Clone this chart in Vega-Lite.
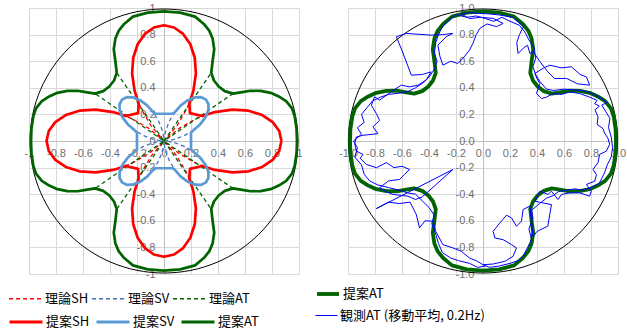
{
  "$schema": "https://vega.github.io/schema/vega-lite/v6.json",
  "background": "white",
  "padding": {"left": 8, "top": 2, "right": 0, "bottom": 0},
  "config": {
    "view": {"stroke": null},
    "locale": {"number": {"decimal": ".", "thousands": ",", "grouping": [3], "currency": ["", ""], "minus": "-"}},
    "axis": {"labelFont": "Liberation Sans", "labelFontSize": 11, "labelColor": "#707070", "domainColor": "#bfbfbf", "gridColor": "#d9d9d9", "gridWidth": 1, "zindex": 0},
    "legend": {"labelFont": "Noto Sans CJK JP", "labelFontSize": 13, "labelColor": "#000000", "symbolType": "stroke", "labelOffset": 2, "columnPadding": 0, "rowPadding": 11, "direction": "horizontal"}
  },
  "datasets": {
    "th": [
      {"s":"理論SH","i":0,"x":0.87,"y":0},{"s":"理論SH","i":1,"x":0.8535,"y":0.0747},{"s":"理論SH","i":2,"x":0.8051,"y":0.1419},{"s":"理論SH","i":3,"x":0.7277,"y":0.195},{"s":"理論SH","i":4,"x":0.6262,"y":0.2279},{"s":"理論SH","i":5,"x":0.5068,"y":0.2363},{"s":"理論SH","i":6,"x":0.3767,"y":0.2175},{"s":"理論SH","i":7,"x":0.2437,"y":0.1707},{"s":"理論SH","i":8,"x":0.1157,"y":0.0971},{"s":"理論SH","i":9,"x":0,"y":0},
      {"s":"理論SH","i":10,"x":0.0971,"y":0.1157},{"s":"理論SH","i":11,"x":0.1707,"y":0.2437},{"s":"理論SH","i":12,"x":0.2175,"y":0.3767},{"s":"理論SH","i":13,"x":0.2363,"y":0.5068},{"s":"理論SH","i":14,"x":0.2279,"y":0.6262},{"s":"理論SH","i":15,"x":0.195,"y":0.7277},{"s":"理論SH","i":16,"x":0.1419,"y":0.8051},{"s":"理論SH","i":17,"x":0.0747,"y":0.8535},{"s":"理論SH","i":18,"x":0,"y":0.87},
      {"s":"理論SH","i":19,"x":-0.0747,"y":0.8535},{"s":"理論SH","i":20,"x":-0.1419,"y":0.8051},{"s":"理論SH","i":21,"x":-0.195,"y":0.7277},{"s":"理論SH","i":22,"x":-0.2279,"y":0.6262},{"s":"理論SH","i":23,"x":-0.2363,"y":0.5068},{"s":"理論SH","i":24,"x":-0.2175,"y":0.3767},{"s":"理論SH","i":25,"x":-0.1707,"y":0.2437},{"s":"理論SH","i":26,"x":-0.0971,"y":0.1157},{"s":"理論SH","i":27,"x":0,"y":0},
      {"s":"理論SH","i":28,"x":-0.1157,"y":0.0971},{"s":"理論SH","i":29,"x":-0.2437,"y":0.1707},{"s":"理論SH","i":30,"x":-0.3767,"y":0.2175},{"s":"理論SH","i":31,"x":-0.5068,"y":0.2363},{"s":"理論SH","i":32,"x":-0.6262,"y":0.2279},{"s":"理論SH","i":33,"x":-0.7277,"y":0.195},{"s":"理論SH","i":34,"x":-0.8051,"y":0.1419},{"s":"理論SH","i":35,"x":-0.8535,"y":0.0747},{"s":"理論SH","i":36,"x":-0.87,"y":0},
      {"s":"理論SH","i":37,"x":-0.8535,"y":-0.0747},{"s":"理論SH","i":38,"x":-0.8051,"y":-0.1419},{"s":"理論SH","i":39,"x":-0.7277,"y":-0.195},{"s":"理論SH","i":40,"x":-0.6262,"y":-0.2279},{"s":"理論SH","i":41,"x":-0.5068,"y":-0.2363},{"s":"理論SH","i":42,"x":-0.3767,"y":-0.2175},{"s":"理論SH","i":43,"x":-0.2437,"y":-0.1707},{"s":"理論SH","i":44,"x":-0.1157,"y":-0.0971},{"s":"理論SH","i":45,"x":0,"y":0},
      {"s":"理論SH","i":46,"x":-0.0971,"y":-0.1157},{"s":"理論SH","i":47,"x":-0.1707,"y":-0.2437},{"s":"理論SH","i":48,"x":-0.2175,"y":-0.3767},{"s":"理論SH","i":49,"x":-0.2363,"y":-0.5068},{"s":"理論SH","i":50,"x":-0.2279,"y":-0.6262},{"s":"理論SH","i":51,"x":-0.195,"y":-0.7277},{"s":"理論SH","i":52,"x":-0.1419,"y":-0.8051},{"s":"理論SH","i":53,"x":-0.0747,"y":-0.8535},{"s":"理論SH","i":54,"x":0,"y":-0.87},
      {"s":"理論SH","i":55,"x":0.0747,"y":-0.8535},{"s":"理論SH","i":56,"x":0.1419,"y":-0.8051},{"s":"理論SH","i":57,"x":0.195,"y":-0.7277},{"s":"理論SH","i":58,"x":0.2279,"y":-0.6262},{"s":"理論SH","i":59,"x":0.2363,"y":-0.5068},{"s":"理論SH","i":60,"x":0.2175,"y":-0.3767},{"s":"理論SH","i":61,"x":0.1707,"y":-0.2437},{"s":"理論SH","i":62,"x":0.0971,"y":-0.1157},{"s":"理論SH","i":63,"x":0,"y":0},
      {"s":"理論SH","i":64,"x":0.1157,"y":-0.0971},{"s":"理論SH","i":65,"x":0.2437,"y":-0.1707},{"s":"理論SH","i":66,"x":0.3767,"y":-0.2175},{"s":"理論SH","i":67,"x":0.5068,"y":-0.2363},{"s":"理論SH","i":68,"x":0.6262,"y":-0.2279},{"s":"理論SH","i":69,"x":0.7277,"y":-0.195},{"s":"理論SH","i":70,"x":0.8051,"y":-0.1419},{"s":"理論SH","i":71,"x":0.8535,"y":-0.0747},{"s":"理論SH","i":72,"x":0.87,"y":0},

      {"s":"理論SV","i":0,"x":0,"y":0},{"s":"理論SV","i":1,"x":0.0317,"y":0.0028},{"s":"理論SV","i":2,"x":0.0867,"y":0.0153},{"s":"理論SV","i":3,"x":0.1503,"y":0.0403},{"s":"理論SV","i":4,"x":0.213,"y":0.0775},{"s":"理論SV","i":5,"x":0.2674,"y":0.1247},{"s":"理論SV","i":6,"x":0.3071,"y":0.1773},{"s":"理論SV","i":7,"x":0.3283,"y":0.2299},{"s":"理論SV","i":8,"x":0.3294,"y":0.2764},{"s":"理論SV","i":9,"x":0.3111,"y":0.3111},
      {"s":"理論SV","i":10,"x":0.2764,"y":0.3294},{"s":"理論SV","i":11,"x":0.2299,"y":0.3283},{"s":"理論SV","i":12,"x":0.1773,"y":0.3071},{"s":"理論SV","i":13,"x":0.1247,"y":0.2674},{"s":"理論SV","i":14,"x":0.0775,"y":0.213},{"s":"理論SV","i":15,"x":0.0403,"y":0.1503},{"s":"理論SV","i":16,"x":0.0153,"y":0.0867},{"s":"理論SV","i":17,"x":0.0028,"y":0.0317},{"s":"理論SV","i":18,"x":0,"y":0},
      {"s":"理論SV","i":19,"x":-0.0028,"y":0.0317},{"s":"理論SV","i":20,"x":-0.0153,"y":0.0867},{"s":"理論SV","i":21,"x":-0.0403,"y":0.1503},{"s":"理論SV","i":22,"x":-0.0775,"y":0.213},{"s":"理論SV","i":23,"x":-0.1247,"y":0.2674},{"s":"理論SV","i":24,"x":-0.1773,"y":0.3071},{"s":"理論SV","i":25,"x":-0.2299,"y":0.3283},{"s":"理論SV","i":26,"x":-0.2764,"y":0.3294},{"s":"理論SV","i":27,"x":-0.3111,"y":0.3111},
      {"s":"理論SV","i":28,"x":-0.3294,"y":0.2764},{"s":"理論SV","i":29,"x":-0.3283,"y":0.2299},{"s":"理論SV","i":30,"x":-0.3071,"y":0.1773},{"s":"理論SV","i":31,"x":-0.2674,"y":0.1247},{"s":"理論SV","i":32,"x":-0.213,"y":0.0775},{"s":"理論SV","i":33,"x":-0.1503,"y":0.0403},{"s":"理論SV","i":34,"x":-0.0867,"y":0.0153},{"s":"理論SV","i":35,"x":-0.0317,"y":0.0028},{"s":"理論SV","i":36,"x":0,"y":0},
      {"s":"理論SV","i":37,"x":-0.0317,"y":-0.0028},{"s":"理論SV","i":38,"x":-0.0867,"y":-0.0153},{"s":"理論SV","i":39,"x":-0.1503,"y":-0.0403},{"s":"理論SV","i":40,"x":-0.213,"y":-0.0775},{"s":"理論SV","i":41,"x":-0.2674,"y":-0.1247},{"s":"理論SV","i":42,"x":-0.3071,"y":-0.1773},{"s":"理論SV","i":43,"x":-0.3283,"y":-0.2299},{"s":"理論SV","i":44,"x":-0.3294,"y":-0.2764},{"s":"理論SV","i":45,"x":-0.3111,"y":-0.3111},
      {"s":"理論SV","i":46,"x":-0.2764,"y":-0.3294},{"s":"理論SV","i":47,"x":-0.2299,"y":-0.3283},{"s":"理論SV","i":48,"x":-0.1773,"y":-0.3071},{"s":"理論SV","i":49,"x":-0.1247,"y":-0.2674},{"s":"理論SV","i":50,"x":-0.0775,"y":-0.213},{"s":"理論SV","i":51,"x":-0.0403,"y":-0.1503},{"s":"理論SV","i":52,"x":-0.0153,"y":-0.0867},{"s":"理論SV","i":53,"x":-0.0028,"y":-0.0317},{"s":"理論SV","i":54,"x":0,"y":0},
      {"s":"理論SV","i":55,"x":0.0028,"y":-0.0317},{"s":"理論SV","i":56,"x":0.0153,"y":-0.0867},{"s":"理論SV","i":57,"x":0.0403,"y":-0.1503},{"s":"理論SV","i":58,"x":0.0775,"y":-0.213},{"s":"理論SV","i":59,"x":0.1247,"y":-0.2674},{"s":"理論SV","i":60,"x":0.1773,"y":-0.3071},{"s":"理論SV","i":61,"x":0.2299,"y":-0.3283},{"s":"理論SV","i":62,"x":0.2764,"y":-0.3294},{"s":"理論SV","i":63,"x":0.3111,"y":-0.3111},
      {"s":"理論SV","i":64,"x":0.3294,"y":-0.2764},{"s":"理論SV","i":65,"x":0.3283,"y":-0.2299},{"s":"理論SV","i":66,"x":0.3071,"y":-0.1773},{"s":"理論SV","i":67,"x":0.2674,"y":-0.1247},{"s":"理論SV","i":68,"x":0.213,"y":-0.0775},{"s":"理論SV","i":69,"x":0.1503,"y":-0.0403},{"s":"理論SV","i":70,"x":0.0867,"y":-0.0153},{"s":"理論SV","i":71,"x":0.0317,"y":-0.0028},{"s":"理論SV","i":72,"x":0,"y":0},

      {"s":"理論AT","i":0,"x":0.985,"y":0},{"s":"理論AT","i":1,"x":0.982,"y":0.09},{"s":"理論AT","i":2,"x":0.968,"y":0.185},{"s":"理論AT","i":3,"x":0.948,"y":0.245},{"s":"理論AT","i":4,"x":0.905,"y":0.3},{"s":"理論AT","i":5,"x":0.85,"y":0.335},{"s":"理論AT","i":6,"x":0.79,"y":0.362},{"s":"理論AT","i":7,"x":0.715,"y":0.377},{"s":"理論AT","i":8,"x":0.64,"y":0.378},{"s":"理論AT","i":9,"x":0.58,"y":0.368},{"s":"理論AT","i":10,"x":0.51,"y":0.356},
      {"s":"理論AT","i":11,"x":0,"y":0},{"s":"理論AT","i":12,"x":0.35,"y":0.512},{"s":"理論AT","i":13,"x":0.36,"y":0.6},{"s":"理論AT","i":14,"x":0.372,"y":0.69},{"s":"理論AT","i":15,"x":0.36,"y":0.77},{"s":"理論AT","i":16,"x":0.335,"y":0.83},{"s":"理論AT","i":17,"x":0.295,"y":0.88},{"s":"理論AT","i":18,"x":0.23,"y":0.935},{"s":"理論AT","i":19,"x":0.12,"y":0.965},{"s":"理論AT","i":20,"x":0,"y":0.975},
      {"s":"理論AT","i":21,"x":-0.12,"y":0.965},{"s":"理論AT","i":22,"x":-0.23,"y":0.935},{"s":"理論AT","i":23,"x":-0.295,"y":0.88},{"s":"理論AT","i":24,"x":-0.335,"y":0.83},{"s":"理論AT","i":25,"x":-0.36,"y":0.77},{"s":"理論AT","i":26,"x":-0.372,"y":0.69},{"s":"理論AT","i":27,"x":-0.36,"y":0.6},{"s":"理論AT","i":28,"x":-0.35,"y":0.512},{"s":"理論AT","i":29,"x":0,"y":0},
      {"s":"理論AT","i":30,"x":-0.51,"y":0.356},{"s":"理論AT","i":31,"x":-0.58,"y":0.368},{"s":"理論AT","i":32,"x":-0.64,"y":0.378},{"s":"理論AT","i":33,"x":-0.715,"y":0.377},{"s":"理論AT","i":34,"x":-0.79,"y":0.362},{"s":"理論AT","i":35,"x":-0.85,"y":0.335},{"s":"理論AT","i":36,"x":-0.905,"y":0.3},{"s":"理論AT","i":37,"x":-0.948,"y":0.245},{"s":"理論AT","i":38,"x":-0.968,"y":0.185},{"s":"理論AT","i":39,"x":-0.982,"y":0.09},{"s":"理論AT","i":40,"x":-0.985,"y":0},
      {"s":"理論AT","i":41,"x":-0.982,"y":-0.09},{"s":"理論AT","i":42,"x":-0.968,"y":-0.185},{"s":"理論AT","i":43,"x":-0.948,"y":-0.245},{"s":"理論AT","i":44,"x":-0.905,"y":-0.3},{"s":"理論AT","i":45,"x":-0.85,"y":-0.335},{"s":"理論AT","i":46,"x":-0.79,"y":-0.362},{"s":"理論AT","i":47,"x":-0.715,"y":-0.377},{"s":"理論AT","i":48,"x":-0.64,"y":-0.378},{"s":"理論AT","i":49,"x":-0.58,"y":-0.368},{"s":"理論AT","i":50,"x":-0.51,"y":-0.356},
      {"s":"理論AT","i":51,"x":0,"y":0},{"s":"理論AT","i":52,"x":-0.35,"y":-0.512},{"s":"理論AT","i":53,"x":-0.36,"y":-0.6},{"s":"理論AT","i":54,"x":-0.372,"y":-0.69},{"s":"理論AT","i":55,"x":-0.36,"y":-0.77},{"s":"理論AT","i":56,"x":-0.335,"y":-0.83},{"s":"理論AT","i":57,"x":-0.295,"y":-0.88},{"s":"理論AT","i":58,"x":-0.23,"y":-0.935},{"s":"理論AT","i":59,"x":-0.12,"y":-0.965},{"s":"理論AT","i":60,"x":0,"y":-0.975},
      {"s":"理論AT","i":61,"x":0.12,"y":-0.965},{"s":"理論AT","i":62,"x":0.23,"y":-0.935},{"s":"理論AT","i":63,"x":0.295,"y":-0.88},{"s":"理論AT","i":64,"x":0.335,"y":-0.83},{"s":"理論AT","i":65,"x":0.36,"y":-0.77},{"s":"理論AT","i":66,"x":0.372,"y":-0.69},{"s":"理論AT","i":67,"x":0.36,"y":-0.6},{"s":"理論AT","i":68,"x":0.35,"y":-0.512},{"s":"理論AT","i":69,"x":0,"y":0},
      {"s":"理論AT","i":70,"x":0.51,"y":-0.356},{"s":"理論AT","i":71,"x":0.58,"y":-0.368},{"s":"理論AT","i":72,"x":0.64,"y":-0.378},{"s":"理論AT","i":73,"x":0.715,"y":-0.377},{"s":"理論AT","i":74,"x":0.79,"y":-0.362},{"s":"理論AT","i":75,"x":0.85,"y":-0.335},{"s":"理論AT","i":76,"x":0.905,"y":-0.3},{"s":"理論AT","i":77,"x":0.948,"y":-0.245},{"s":"理論AT","i":78,"x":0.968,"y":-0.185},{"s":"理論AT","i":79,"x":0.982,"y":-0.09},{"s":"理論AT","i":80,"x":0.985,"y":0}
    ],
    "pr": [
      {"s":"提案SH","i":0,"x":0.87,"y":0},{"s":"提案SH","i":1,"x":0.8535,"y":0.0747},{"s":"提案SH","i":2,"x":0.8051,"y":0.1419},{"s":"提案SH","i":3,"x":0.7277,"y":0.195},{"s":"提案SH","i":4,"x":0.6262,"y":0.2279},{"s":"提案SH","i":5,"x":0.5068,"y":0.2363},{"s":"提案SH","i":6,"x":0.3767,"y":0.2175},{"s":"提案SH","i":7,"x":0.2835,"y":0.1876},{"s":"提案SH","i":8,"x":0.192,"y":0.21},
      {"s":"提案SH","i":9,"x":0.1876,"y":0.2835},{"s":"提案SH","i":10,"x":0.2175,"y":0.3767},{"s":"提案SH","i":11,"x":0.2363,"y":0.5068},{"s":"提案SH","i":12,"x":0.2279,"y":0.6262},{"s":"提案SH","i":13,"x":0.195,"y":0.7277},{"s":"提案SH","i":14,"x":0.1419,"y":0.8051},{"s":"提案SH","i":15,"x":0.0747,"y":0.8535},{"s":"提案SH","i":16,"x":0,"y":0.87},
      {"s":"提案SH","i":17,"x":-0.0747,"y":0.8535},{"s":"提案SH","i":18,"x":-0.1419,"y":0.8051},{"s":"提案SH","i":19,"x":-0.195,"y":0.7277},{"s":"提案SH","i":20,"x":-0.2279,"y":0.6262},{"s":"提案SH","i":21,"x":-0.2363,"y":0.5068},{"s":"提案SH","i":22,"x":-0.2175,"y":0.3767},{"s":"提案SH","i":23,"x":-0.1876,"y":0.2835},{"s":"提案SH","i":24,"x":-0.192,"y":0.21},
      {"s":"提案SH","i":25,"x":-0.2835,"y":0.1876},{"s":"提案SH","i":26,"x":-0.3767,"y":0.2175},{"s":"提案SH","i":27,"x":-0.5068,"y":0.2363},{"s":"提案SH","i":28,"x":-0.6262,"y":0.2279},{"s":"提案SH","i":29,"x":-0.7277,"y":0.195},{"s":"提案SH","i":30,"x":-0.8051,"y":0.1419},{"s":"提案SH","i":31,"x":-0.8535,"y":0.0747},{"s":"提案SH","i":32,"x":-0.87,"y":0},
      {"s":"提案SH","i":33,"x":-0.8535,"y":-0.0747},{"s":"提案SH","i":34,"x":-0.8051,"y":-0.1419},{"s":"提案SH","i":35,"x":-0.7277,"y":-0.195},{"s":"提案SH","i":36,"x":-0.6262,"y":-0.2279},{"s":"提案SH","i":37,"x":-0.5068,"y":-0.2363},{"s":"提案SH","i":38,"x":-0.3767,"y":-0.2175},{"s":"提案SH","i":39,"x":-0.2835,"y":-0.1876},{"s":"提案SH","i":40,"x":-0.192,"y":-0.21},
      {"s":"提案SH","i":41,"x":-0.1876,"y":-0.2835},{"s":"提案SH","i":42,"x":-0.2175,"y":-0.3767},{"s":"提案SH","i":43,"x":-0.2363,"y":-0.5068},{"s":"提案SH","i":44,"x":-0.2279,"y":-0.6262},{"s":"提案SH","i":45,"x":-0.195,"y":-0.7277},{"s":"提案SH","i":46,"x":-0.1419,"y":-0.8051},{"s":"提案SH","i":47,"x":-0.0747,"y":-0.8535},{"s":"提案SH","i":48,"x":0,"y":-0.87},
      {"s":"提案SH","i":49,"x":0.0747,"y":-0.8535},{"s":"提案SH","i":50,"x":0.1419,"y":-0.8051},{"s":"提案SH","i":51,"x":0.195,"y":-0.7277},{"s":"提案SH","i":52,"x":0.2279,"y":-0.6262},{"s":"提案SH","i":53,"x":0.2363,"y":-0.5068},{"s":"提案SH","i":54,"x":0.2175,"y":-0.3767},{"s":"提案SH","i":55,"x":0.1876,"y":-0.2835},{"s":"提案SH","i":56,"x":0.192,"y":-0.21},
      {"s":"提案SH","i":57,"x":0.2835,"y":-0.1876},{"s":"提案SH","i":58,"x":0.3767,"y":-0.2175},{"s":"提案SH","i":59,"x":0.5068,"y":-0.2363},{"s":"提案SH","i":60,"x":0.6262,"y":-0.2279},{"s":"提案SH","i":61,"x":0.7277,"y":-0.195},{"s":"提案SH","i":62,"x":0.8051,"y":-0.1419},{"s":"提案SH","i":63,"x":0.8535,"y":-0.0747},{"s":"提案SH","i":64,"x":0.87,"y":0},

      {"s":"提案SV","i":0,"x":0.2,"y":0},{"s":"提案SV","i":1,"x":0.2,"y":0.062},{"s":"提案SV","i":2,"x":0.213,"y":0.0775},{"s":"提案SV","i":3,"x":0.2674,"y":0.1247},{"s":"提案SV","i":4,"x":0.3071,"y":0.1773},{"s":"提案SV","i":5,"x":0.3283,"y":0.2299},{"s":"提案SV","i":6,"x":0.3294,"y":0.2764},{"s":"提案SV","i":7,"x":0.3111,"y":0.3111},{"s":"提案SV","i":8,"x":0.2764,"y":0.3294},{"s":"提案SV","i":9,"x":0.2299,"y":0.3283},{"s":"提案SV","i":10,"x":0.1773,"y":0.3071},{"s":"提案SV","i":11,"x":0.1247,"y":0.2674},{"s":"提案SV","i":12,"x":0.0775,"y":0.213},{"s":"提案SV","i":13,"x":0.062,"y":0.205},{"s":"提案SV","i":14,"x":0,"y":0.205},
      {"s":"提案SV","i":15,"x":-0.062,"y":0.205},{"s":"提案SV","i":16,"x":-0.0775,"y":0.213},{"s":"提案SV","i":17,"x":-0.1247,"y":0.2674},{"s":"提案SV","i":18,"x":-0.1773,"y":0.3071},{"s":"提案SV","i":19,"x":-0.2299,"y":0.3283},{"s":"提案SV","i":20,"x":-0.2764,"y":0.3294},{"s":"提案SV","i":21,"x":-0.3111,"y":0.3111},{"s":"提案SV","i":22,"x":-0.3294,"y":0.2764},{"s":"提案SV","i":23,"x":-0.3283,"y":0.2299},{"s":"提案SV","i":24,"x":-0.3071,"y":0.1773},{"s":"提案SV","i":25,"x":-0.2674,"y":0.1247},{"s":"提案SV","i":26,"x":-0.213,"y":0.0775},{"s":"提案SV","i":27,"x":-0.2,"y":0.062},{"s":"提案SV","i":28,"x":-0.2,"y":0},
      {"s":"提案SV","i":29,"x":-0.2,"y":-0.062},{"s":"提案SV","i":30,"x":-0.213,"y":-0.0775},{"s":"提案SV","i":31,"x":-0.2674,"y":-0.1247},{"s":"提案SV","i":32,"x":-0.3071,"y":-0.1773},{"s":"提案SV","i":33,"x":-0.3283,"y":-0.2299},{"s":"提案SV","i":34,"x":-0.3294,"y":-0.2764},{"s":"提案SV","i":35,"x":-0.3111,"y":-0.3111},{"s":"提案SV","i":36,"x":-0.2764,"y":-0.3294},{"s":"提案SV","i":37,"x":-0.2299,"y":-0.3283},{"s":"提案SV","i":38,"x":-0.1773,"y":-0.3071},{"s":"提案SV","i":39,"x":-0.1247,"y":-0.2674},{"s":"提案SV","i":40,"x":-0.0775,"y":-0.213},{"s":"提案SV","i":41,"x":-0.062,"y":-0.205},{"s":"提案SV","i":42,"x":0,"y":-0.205},
      {"s":"提案SV","i":43,"x":0.062,"y":-0.205},{"s":"提案SV","i":44,"x":0.0775,"y":-0.213},{"s":"提案SV","i":45,"x":0.1247,"y":-0.2674},{"s":"提案SV","i":46,"x":0.1773,"y":-0.3071},{"s":"提案SV","i":47,"x":0.2299,"y":-0.3283},{"s":"提案SV","i":48,"x":0.2764,"y":-0.3294},{"s":"提案SV","i":49,"x":0.3111,"y":-0.3111},{"s":"提案SV","i":50,"x":0.3294,"y":-0.2764},{"s":"提案SV","i":51,"x":0.3283,"y":-0.2299},{"s":"提案SV","i":52,"x":0.3071,"y":-0.1773},{"s":"提案SV","i":53,"x":0.2674,"y":-0.1247},{"s":"提案SV","i":54,"x":0.213,"y":-0.0775},{"s":"提案SV","i":55,"x":0.2,"y":-0.062},{"s":"提案SV","i":56,"x":0.2,"y":0}
    ],
    "at": [
      {"s":"提案AT","i":0,"x":0.985,"y":0},{"s":"提案AT","i":1,"x":0.982,"y":0.09},{"s":"提案AT","i":2,"x":0.968,"y":0.185},{"s":"提案AT","i":3,"x":0.948,"y":0.245},{"s":"提案AT","i":4,"x":0.905,"y":0.3},{"s":"提案AT","i":5,"x":0.85,"y":0.335},{"s":"提案AT","i":6,"x":0.79,"y":0.362},{"s":"提案AT","i":7,"x":0.715,"y":0.377},{"s":"提案AT","i":8,"x":0.64,"y":0.378},{"s":"提案AT","i":9,"x":0.58,"y":0.368},{"s":"提案AT","i":10,"x":0.51,"y":0.356},
      {"s":"提案AT","i":11,"x":0.45,"y":0.375},{"s":"提案AT","i":12,"x":0.405,"y":0.41},{"s":"提案AT","i":13,"x":0.37,"y":0.455},{"s":"提案AT","i":14,"x":0.35,"y":0.512},{"s":"提案AT","i":15,"x":0.36,"y":0.6},{"s":"提案AT","i":16,"x":0.372,"y":0.69},{"s":"提案AT","i":17,"x":0.36,"y":0.77},{"s":"提案AT","i":18,"x":0.335,"y":0.83},{"s":"提案AT","i":19,"x":0.295,"y":0.88},{"s":"提案AT","i":20,"x":0.23,"y":0.935},{"s":"提案AT","i":21,"x":0.12,"y":0.965},{"s":"提案AT","i":22,"x":0,"y":0.975},
      {"s":"提案AT","i":23,"x":-0.12,"y":0.965},{"s":"提案AT","i":24,"x":-0.23,"y":0.935},{"s":"提案AT","i":25,"x":-0.295,"y":0.88},{"s":"提案AT","i":26,"x":-0.335,"y":0.83},{"s":"提案AT","i":27,"x":-0.36,"y":0.77},{"s":"提案AT","i":28,"x":-0.372,"y":0.69},{"s":"提案AT","i":29,"x":-0.36,"y":0.6},{"s":"提案AT","i":30,"x":-0.35,"y":0.512},{"s":"提案AT","i":31,"x":-0.37,"y":0.455},{"s":"提案AT","i":32,"x":-0.405,"y":0.41},{"s":"提案AT","i":33,"x":-0.45,"y":0.375},
      {"s":"提案AT","i":34,"x":-0.51,"y":0.356},{"s":"提案AT","i":35,"x":-0.58,"y":0.368},{"s":"提案AT","i":36,"x":-0.64,"y":0.378},{"s":"提案AT","i":37,"x":-0.715,"y":0.377},{"s":"提案AT","i":38,"x":-0.79,"y":0.362},{"s":"提案AT","i":39,"x":-0.85,"y":0.335},{"s":"提案AT","i":40,"x":-0.905,"y":0.3},{"s":"提案AT","i":41,"x":-0.948,"y":0.245},{"s":"提案AT","i":42,"x":-0.968,"y":0.185},{"s":"提案AT","i":43,"x":-0.982,"y":0.09},{"s":"提案AT","i":44,"x":-0.985,"y":0},
      {"s":"提案AT","i":45,"x":-0.982,"y":-0.09},{"s":"提案AT","i":46,"x":-0.968,"y":-0.185},{"s":"提案AT","i":47,"x":-0.948,"y":-0.245},{"s":"提案AT","i":48,"x":-0.905,"y":-0.3},{"s":"提案AT","i":49,"x":-0.85,"y":-0.335},{"s":"提案AT","i":50,"x":-0.79,"y":-0.362},{"s":"提案AT","i":51,"x":-0.715,"y":-0.377},{"s":"提案AT","i":52,"x":-0.64,"y":-0.378},{"s":"提案AT","i":53,"x":-0.58,"y":-0.368},{"s":"提案AT","i":54,"x":-0.51,"y":-0.356},
      {"s":"提案AT","i":55,"x":-0.45,"y":-0.375},{"s":"提案AT","i":56,"x":-0.405,"y":-0.41},{"s":"提案AT","i":57,"x":-0.37,"y":-0.455},{"s":"提案AT","i":58,"x":-0.35,"y":-0.512},{"s":"提案AT","i":59,"x":-0.36,"y":-0.6},{"s":"提案AT","i":60,"x":-0.372,"y":-0.69},{"s":"提案AT","i":61,"x":-0.36,"y":-0.77},{"s":"提案AT","i":62,"x":-0.335,"y":-0.83},{"s":"提案AT","i":63,"x":-0.295,"y":-0.88},{"s":"提案AT","i":64,"x":-0.23,"y":-0.935},{"s":"提案AT","i":65,"x":-0.12,"y":-0.965},{"s":"提案AT","i":66,"x":0,"y":-0.975},
      {"s":"提案AT","i":67,"x":0.12,"y":-0.965},{"s":"提案AT","i":68,"x":0.23,"y":-0.935},{"s":"提案AT","i":69,"x":0.295,"y":-0.88},{"s":"提案AT","i":70,"x":0.335,"y":-0.83},{"s":"提案AT","i":71,"x":0.36,"y":-0.77},{"s":"提案AT","i":72,"x":0.372,"y":-0.69},{"s":"提案AT","i":73,"x":0.36,"y":-0.6},{"s":"提案AT","i":74,"x":0.35,"y":-0.512},{"s":"提案AT","i":75,"x":0.37,"y":-0.455},{"s":"提案AT","i":76,"x":0.405,"y":-0.41},{"s":"提案AT","i":77,"x":0.45,"y":-0.375},
      {"s":"提案AT","i":78,"x":0.51,"y":-0.356},{"s":"提案AT","i":79,"x":0.58,"y":-0.368},{"s":"提案AT","i":80,"x":0.64,"y":-0.378},{"s":"提案AT","i":81,"x":0.715,"y":-0.377},{"s":"提案AT","i":82,"x":0.79,"y":-0.362},{"s":"提案AT","i":83,"x":0.85,"y":-0.335},{"s":"提案AT","i":84,"x":0.905,"y":-0.3},{"s":"提案AT","i":85,"x":0.948,"y":-0.245},{"s":"提案AT","i":86,"x":0.968,"y":-0.185},{"s":"提案AT","i":87,"x":0.982,"y":-0.09},{"s":"提案AT","i":88,"x":0.985,"y":0}
    ],
    "ob": [
      {"s":"観測AT (移動平均, 0.2Hz)","i":1,"x":0,"y":-0.93},{"s":"観測AT (移動平均, 0.2Hz)","i":2,"x":0.075,"y":-0.925},{"s":"観測AT (移動平均, 0.2Hz)","i":3,"x":0.162,"y":-0.905},{"s":"観測AT (移動平均, 0.2Hz)","i":4,"x":0.223,"y":-0.867},{"s":"観測AT (移動平均, 0.2Hz)","i":5,"x":0.248,"y":-0.804},{"s":"観測AT (移動平均, 0.2Hz)","i":6,"x":0.211,"y":-0.779},{"s":"観測AT (移動平均, 0.2Hz)","i":7,"x":0.149,"y":-0.742},{"s":"観測AT (移動平均, 0.2Hz)","i":8,"x":0.088,"y":-0.729},{"s":"観測AT (移動平均, 0.2Hz)","i":9,"x":0.075,"y":-0.679},{"s":"観測AT (移動平均, 0.2Hz)","i":10,"x":0.125,"y":-0.616},
      {"s":"観測AT (移動平均, 0.2Hz)","i":11,"x":0.174,"y":-0.558},{"s":"観測AT (移動平均, 0.2Hz)","i":12,"x":0.211,"y":-0.578},{"s":"観測AT (移動平均, 0.2Hz)","i":13,"x":0.248,"y":-0.641},{"s":"観測AT (移動平均, 0.2Hz)","i":14,"x":0.285,"y":-0.603},{"s":"観測AT (移動平均, 0.2Hz)","i":15,"x":0.297,"y":-0.515},{"s":"観測AT (移動平均, 0.2Hz)","i":16,"x":0.347,"y":-0.49},{"s":"観測AT (移動平均, 0.2Hz)","i":17,"x":0.371,"y":-0.72},{"s":"観測AT (移動平均, 0.2Hz)","i":18,"x":0.4,"y":-0.68},{"s":"観測AT (移動平均, 0.2Hz)","i":19,"x":0.48,"y":-0.64},{"s":"観測AT (移動平均, 0.2Hz)","i":20,"x":0.507,"y":-0.478},
      {"s":"観測AT (移動平均, 0.2Hz)","i":21,"x":0.384,"y":-0.453},{"s":"観測AT (移動平均, 0.2Hz)","i":22,"x":0.421,"y":-0.377},{"s":"観測AT (移動平均, 0.2Hz)","i":23,"x":0.482,"y":-0.402},{"s":"観測AT (移動平均, 0.2Hz)","i":24,"x":0.507,"y":-0.377},{"s":"観測AT (移動平均, 0.2Hz)","i":25,"x":0.556,"y":-0.44},{"s":"観測AT (移動平均, 0.2Hz)","i":26,"x":0.581,"y":-0.402},{"s":"観測AT (移動平均, 0.2Hz)","i":27,"x":0.643,"y":-0.39},{"s":"観測AT (移動平均, 0.2Hz)","i":28,"x":0.716,"y":-0.39},{"s":"観測AT (移動平均, 0.2Hz)","i":29,"x":0.79,"y":-0.415},{"s":"観測AT (移動平均, 0.2Hz)","i":30,"x":0.803,"y":-0.377},
      {"s":"観測AT (移動平均, 0.2Hz)","i":31,"x":0.766,"y":-0.327},{"s":"観測AT (移動平均, 0.2Hz)","i":32,"x":0.828,"y":-0.302},{"s":"観測AT (移動平均, 0.2Hz)","i":33,"x":0.84,"y":-0.252},{"s":"観測AT (移動平均, 0.2Hz)","i":34,"x":0.815,"y":-0.214},{"s":"観測AT (移動平均, 0.2Hz)","i":35,"x":0.852,"y":-0.163},{"s":"観測AT (移動平均, 0.2Hz)","i":36,"x":0.864,"y":-0.101},{"s":"観測AT (移動平均, 0.2Hz)","i":37,"x":0.914,"y":-0.076},{"s":"観測AT (移動平均, 0.2Hz)","i":38,"x":0.938,"y":-0.025},{"s":"観測AT (移動平均, 0.2Hz)","i":39,"x":0.926,"y":0.02},{"s":"観測AT (移動平均, 0.2Hz)","i":40,"x":0.9,"y":0.06},
      {"s":"観測AT (移動平均, 0.2Hz)","i":41,"x":0.889,"y":0.093},{"s":"観測AT (移動平均, 0.2Hz)","i":42,"x":0.845,"y":0.125},{"s":"観測AT (移動平均, 0.2Hz)","i":43,"x":0.852,"y":0.18},{"s":"観測AT (移動平均, 0.2Hz)","i":44,"x":0.83,"y":0.235},{"s":"観測AT (移動平均, 0.2Hz)","i":45,"x":0.862,"y":0.262},{"s":"観測AT (移動平均, 0.2Hz)","i":46,"x":0.827,"y":0.281},{"s":"観測AT (移動平均, 0.2Hz)","i":47,"x":0.845,"y":0.305},{"s":"観測AT (移動平均, 0.2Hz)","i":48,"x":0.79,"y":0.33},{"s":"観測AT (移動平均, 0.2Hz)","i":49,"x":0.716,"y":0.357},{"s":"観測AT (移動平均, 0.2Hz)","i":50,"x":0.643,"y":0.369},
      {"s":"観測AT (移動平均, 0.2Hz)","i":51,"x":0.58,"y":0.35},{"s":"観測AT (移動平均, 0.2Hz)","i":52,"x":0.519,"y":0.357},{"s":"観測AT (移動平均, 0.2Hz)","i":53,"x":0.47,"y":0.33},{"s":"観測AT (移動平均, 0.2Hz)","i":54,"x":0.433,"y":0.319},{"s":"観測AT (移動平均, 0.2Hz)","i":55,"x":0.396,"y":0.357},{"s":"観測AT (移動平均, 0.2Hz)","i":56,"x":0.421,"y":0.432},{"s":"観測AT (移動平均, 0.2Hz)","i":57,"x":0.4,"y":0.47},{"s":"観測AT (移動平均, 0.2Hz)","i":58,"x":0.384,"y":0.508},{"s":"観測AT (移動平均, 0.2Hz)","i":59,"x":0.45,"y":0.55},{"s":"観測AT (移動平均, 0.2Hz)","i":60,"x":0.495,"y":0.57},
      {"s":"観測AT (移動平均, 0.2Hz)","i":61,"x":0.58,"y":0.55},{"s":"観測AT (移動平均, 0.2Hz)","i":62,"x":0.655,"y":0.558},{"s":"観測AT (移動平均, 0.2Hz)","i":63,"x":0.72,"y":0.5},{"s":"観測AT (移動平均, 0.2Hz)","i":64,"x":0.766,"y":0.482},{"s":"観測AT (移動平均, 0.2Hz)","i":65,"x":0.79,"y":0.42},{"s":"観測AT (移動平均, 0.2Hz)","i":66,"x":0.7,"y":0.43},{"s":"観測AT (移動平均, 0.2Hz)","i":67,"x":0.62,"y":0.47},{"s":"観測AT (移動平均, 0.2Hz)","i":68,"x":0.53,"y":0.47},{"s":"観測AT (移動平均, 0.2Hz)","i":69,"x":0.48,"y":0.52},{"s":"観測AT (移動平均, 0.2Hz)","i":70,"x":0.42,"y":0.6},
      {"s":"観測AT (移動平均, 0.2Hz)","i":71,"x":0.371,"y":0.671},{"s":"観測AT (移動平均, 0.2Hz)","i":72,"x":0.347,"y":0.658},{"s":"観測AT (移動平均, 0.2Hz)","i":73,"x":0.33,"y":0.72},{"s":"観測AT (移動平均, 0.2Hz)","i":74,"x":0.3,"y":0.7},{"s":"観測AT (移動平均, 0.2Hz)","i":75,"x":0.26,"y":0.658},{"s":"観測AT (移動平均, 0.2Hz)","i":76,"x":0.25,"y":0.74},{"s":"観測AT (移動平均, 0.2Hz)","i":77,"x":0.27,"y":0.8},{"s":"観測AT (移動平均, 0.2Hz)","i":78,"x":0.3,"y":0.86},{"s":"観測AT (移動平均, 0.2Hz)","i":79,"x":0.22,"y":0.93},{"s":"観測AT (移動平均, 0.2Hz)","i":80,"x":0.125,"y":0.947},
      {"s":"観測AT (移動平均, 0.2Hz)","i":81,"x":0.05,"y":0.955},{"s":"観測AT (移動平均, 0.2Hz)","i":82,"x":-0.023,"y":0.96},{"s":"観測AT (移動平均, 0.2Hz)","i":83,"x":-0.1,"y":0.965},{"s":"観測AT (移動平均, 0.2Hz)","i":84,"x":-0.16,"y":0.955},{"s":"観測AT (移動平均, 0.2Hz)","i":85,"x":-0.1,"y":0.92},{"s":"観測AT (移動平均, 0.2Hz)","i":86,"x":-0.02,"y":0.93},{"s":"観測AT (移動平均, 0.2Hz)","i":87,"x":0.075,"y":0.922},{"s":"観測AT (移動平均, 0.2Hz)","i":88,"x":0.149,"y":0.884},{"s":"観測AT (移動平均, 0.2Hz)","i":89,"x":0.1,"y":0.86},{"s":"観測AT (移動平均, 0.2Hz)","i":90,"x":0.03,"y":0.88},
      {"s":"観測AT (移動平均, 0.2Hz)","i":91,"x":-0.023,"y":0.847},{"s":"観測AT (移動平均, 0.2Hz)","i":92,"x":-0.05,"y":0.8},{"s":"観測AT (移動平均, 0.2Hz)","i":93,"x":-0.075,"y":0.734},{"s":"観測AT (移動平均, 0.2Hz)","i":94,"x":-0.1,"y":0.683},{"s":"観測AT (移動平均, 0.2Hz)","i":95,"x":-0.15,"y":0.62},{"s":"観測AT (移動平均, 0.2Hz)","i":96,"x":-0.186,"y":0.583},{"s":"観測AT (移動平均, 0.2Hz)","i":97,"x":-0.24,"y":0.6},{"s":"観測AT (移動平均, 0.2Hz)","i":98,"x":-0.297,"y":0.57},{"s":"観測AT (移動平均, 0.2Hz)","i":99,"x":-0.32,"y":0.64},{"s":"観測AT (移動平均, 0.2Hz)","i":100,"x":-0.334,"y":0.721},
      {"s":"観測AT (移動平均, 0.2Hz)","i":101,"x":-0.272,"y":0.784},{"s":"観測AT (移動平均, 0.2Hz)","i":102,"x":-0.223,"y":0.809},{"s":"観測AT (移動平均, 0.2Hz)","i":103,"x":-0.3,"y":0.8},{"s":"観測AT (移動平均, 0.2Hz)","i":104,"x":-0.384,"y":0.796},{"s":"観測AT (移動平均, 0.2Hz)","i":105,"x":-0.568,"y":0.809},{"s":"観測AT (移動平均, 0.2Hz)","i":106,"x":-0.642,"y":0.784},{"s":"観測AT (移動平均, 0.2Hz)","i":107,"x":-0.6,"y":0.68},{"s":"観測AT (移動平均, 0.2Hz)","i":108,"x":-0.531,"y":0.495},{"s":"観測AT (移動平均, 0.2Hz)","i":109,"x":-0.45,"y":0.5},{"s":"観測AT (移動平均, 0.2Hz)","i":110,"x":-0.384,"y":0.52},
      {"s":"観測AT (移動平均, 0.2Hz)","i":111,"x":-0.42,"y":0.46},{"s":"観測AT (移動平均, 0.2Hz)","i":112,"x":-0.48,"y":0.42},{"s":"観測AT (移動平均, 0.2Hz)","i":113,"x":-0.544,"y":0.407},{"s":"観測AT (移動平均, 0.2Hz)","i":114,"x":-0.605,"y":0.42},{"s":"観測AT (移動平均, 0.2Hz)","i":115,"x":-0.68,"y":0.37},{"s":"観測AT (移動平均, 0.2Hz)","i":116,"x":-0.766,"y":0.307},{"s":"観測AT (移動平均, 0.2Hz)","i":117,"x":-0.803,"y":0.332},{"s":"観測AT (移動平均, 0.2Hz)","i":118,"x":-0.827,"y":0.269},{"s":"観測AT (移動平均, 0.2Hz)","i":119,"x":-0.79,"y":0.206},{"s":"観測AT (移動平均, 0.2Hz)","i":120,"x":-0.766,"y":0.156},
      {"s":"観測AT (移動平均, 0.2Hz)","i":121,"x":-0.815,"y":0.106},{"s":"観測AT (移動平均, 0.2Hz)","i":122,"x":-0.778,"y":0.055},{"s":"観測AT (移動平均, 0.2Hz)","i":123,"x":-0.889,"y":0.043},{"s":"観測AT (移動平均, 0.2Hz)","i":124,"x":-0.938,"y":0.03},{"s":"観測AT (移動平均, 0.2Hz)","i":125,"x":-0.95,"y":-0.02},{"s":"観測AT (移動平均, 0.2Hz)","i":126,"x":-0.938,"y":-0.076},{"s":"観測AT (移動平均, 0.2Hz)","i":127,"x":-0.889,"y":-0.101},{"s":"観測AT (移動平均, 0.2Hz)","i":128,"x":-0.91,"y":-0.13},{"s":"観測AT (移動平均, 0.2Hz)","i":129,"x":-0.864,"y":-0.176},{"s":"観測AT (移動平均, 0.2Hz)","i":130,"x":-0.79,"y":-0.201},
      {"s":"観測AT (移動平均, 0.2Hz)","i":131,"x":-0.716,"y":-0.163},{"s":"観測AT (移動平均, 0.2Hz)","i":132,"x":-0.66,"y":-0.2},{"s":"観測AT (移動平均, 0.2Hz)","i":133,"x":-0.6,"y":-0.19},{"s":"観測AT (移動平均, 0.2Hz)","i":134,"x":-0.544,"y":-0.214},{"s":"観測AT (移動平均, 0.2Hz)","i":135,"x":-0.58,"y":-0.25},{"s":"観測AT (移動平均, 0.2Hz)","i":136,"x":-0.618,"y":-0.289},{"s":"観測AT (移動平均, 0.2Hz)","i":137,"x":-0.7,"y":-0.3},{"s":"観測AT (移動平均, 0.2Hz)","i":138,"x":-0.766,"y":-0.352},{"s":"観測AT (移動平均, 0.2Hz)","i":139,"x":-0.72,"y":-0.38},{"s":"観測AT (移動平均, 0.2Hz)","i":140,"x":-0.667,"y":-0.402},
      {"s":"観測AT (移動平均, 0.2Hz)","i":141,"x":-0.556,"y":-0.415},{"s":"観測AT (移動平均, 0.2Hz)","i":142,"x":-0.5,"y":-0.44},{"s":"観測AT (移動平均, 0.2Hz)","i":143,"x":-0.45,"y":-0.42},{"s":"観測AT (移動平均, 0.2Hz)","i":144,"x":-0.223,"y":-0.214},{"s":"観測AT (移動平均, 0.2Hz)","i":145,"x":-0.79,"y":-0.508},{"s":"観測AT (移動平均, 0.2Hz)","i":146,"x":-0.7,"y":-0.46},{"s":"観測AT (移動平均, 0.2Hz)","i":147,"x":-0.62,"y":-0.47},{"s":"観測AT (移動平均, 0.2Hz)","i":148,"x":-0.54,"y":-0.46},{"s":"観測AT (移動平均, 0.2Hz)","i":149,"x":-0.494,"y":-0.553},{"s":"観測AT (移動平均, 0.2Hz)","i":150,"x":-0.47,"y":-0.653},
      {"s":"観測AT (移動平均, 0.2Hz)","i":151,"x":-0.43,"y":-0.6},{"s":"観測AT (移動平均, 0.2Hz)","i":152,"x":-0.371,"y":-0.603},{"s":"観測AT (移動平均, 0.2Hz)","i":153,"x":-0.35,"y":-0.68},{"s":"観測AT (移動平均, 0.2Hz)","i":154,"x":-0.297,"y":-0.779},{"s":"観測AT (移動平均, 0.2Hz)","i":155,"x":-0.223,"y":-0.804},{"s":"観測AT (移動平均, 0.2Hz)","i":156,"x":-0.16,"y":-0.83},{"s":"観測AT (移動平均, 0.2Hz)","i":157,"x":-0.1,"y":-0.88},{"s":"観測AT (移動平均, 0.2Hz)","i":158,"x":-0.05,"y":-0.9},{"s":"観測AT (移動平均, 0.2Hz)","i":159,"x":0,"y":-0.93},
      {"s":"観測AT (移動平均, 0.2Hz)","i":160,"x":0.05,"y":-0.95},{"s":"観測AT (移動平均, 0.2Hz)","i":161,"x":0.12,"y":-0.94},{"s":"観測AT (移動平均, 0.2Hz)","i":162,"x":0.2,"y":-0.92},{"s":"観測AT (移動平均, 0.2Hz)","i":163,"x":0.26,"y":-0.9},{"s":"観測AT (移動平均, 0.2Hz)","i":164,"x":0.3,"y":-0.86},{"s":"観測AT (移動平均, 0.2Hz)","i":165,"x":0.33,"y":-0.8},{"s":"観測AT (移動平均, 0.2Hz)","i":166,"x":0.36,"y":-0.74},{"s":"観測AT (移動平均, 0.2Hz)","i":167,"x":0.34,"y":-0.66},{"s":"観測AT (移動平均, 0.2Hz)","i":168,"x":0.37,"y":-0.58},{"s":"観測AT (移動平均, 0.2Hz)","i":169,"x":0.36,"y":-0.52},
      {"s":"観測AT (移動平均, 0.2Hz)","i":170,"x":0.42,"y":-0.47},{"s":"観測AT (移動平均, 0.2Hz)","i":171,"x":0.47,"y":-0.43},{"s":"観測AT (移動平均, 0.2Hz)","i":172,"x":0.52,"y":-0.41},{"s":"観測AT (移動平均, 0.2Hz)","i":173,"x":0.56,"y":-0.38},{"s":"観測AT (移動平均, 0.2Hz)","i":174,"x":0.62,"y":-0.37},{"s":"観測AT (移動平均, 0.2Hz)","i":175,"x":0.68,"y":-0.36},{"s":"観測AT (移動平均, 0.2Hz)","i":176,"x":0.74,"y":-0.37},{"s":"観測AT (移動平均, 0.2Hz)","i":177,"x":0.8,"y":-0.35},{"s":"観測AT (移動平均, 0.2Hz)","i":178,"x":0.86,"y":-0.32},{"s":"観測AT (移動平均, 0.2Hz)","i":179,"x":0.88,"y":-0.28},
      {"s":"観測AT (移動平均, 0.2Hz)","i":180,"x":0.9,"y":-0.24},{"s":"観測AT (移動平均, 0.2Hz)","i":181,"x":0.92,"y":-0.18},{"s":"観測AT (移動平均, 0.2Hz)","i":182,"x":0.95,"y":-0.12},{"s":"観測AT (移動平均, 0.2Hz)","i":183,"x":0.96,"y":-0.05},{"s":"観測AT (移動平均, 0.2Hz)","i":184,"x":0.95,"y":0.03},{"s":"観測AT (移動平均, 0.2Hz)","i":185,"x":0.93,"y":0.1},{"s":"観測AT (移動平均, 0.2Hz)","i":186,"x":0.94,"y":0.17},{"s":"観測AT (移動平均, 0.2Hz)","i":187,"x":0.91,"y":0.22},{"s":"観測AT (移動平均, 0.2Hz)","i":188,"x":0.88,"y":0.27},{"s":"観測AT (移動平均, 0.2Hz)","i":189,"x":0.92,"y":0.29},
      {"s":"観測AT (移動平均, 0.2Hz)","i":190,"x":0.86,"y":0.33},{"s":"観測AT (移動平均, 0.2Hz)","i":191,"x":0.8,"y":0.36},{"s":"観測AT (移動平均, 0.2Hz)","i":192,"x":0.74,"y":0.38},{"s":"観測AT (移動平均, 0.2Hz)","i":193,"x":0.66,"y":0.385},{"s":"観測AT (移動平均, 0.2Hz)","i":194,"x":0.6,"y":0.39},{"s":"観測AT (移動平均, 0.2Hz)","i":195,"x":0.52,"y":0.38},{"s":"観測AT (移動平均, 0.2Hz)","i":196,"x":0.47,"y":0.39},{"s":"観測AT (移動平均, 0.2Hz)","i":197,"x":0.42,"y":0.45},{"s":"観測AT (移動平均, 0.2Hz)","i":198,"x":0.39,"y":0.5},{"s":"観測AT (移動平均, 0.2Hz)","i":199,"x":0.37,"y":0.56},
      {"s":"観測AT (移動平均, 0.2Hz)","i":200,"x":0.39,"y":0.62},{"s":"観測AT (移動平均, 0.2Hz)","i":201,"x":0.38,"y":0.7},{"s":"観測AT (移動平均, 0.2Hz)","i":202,"x":0.34,"y":0.76},{"s":"観測AT (移動平均, 0.2Hz)","i":203,"x":0.31,"y":0.82},{"s":"観測AT (移動平均, 0.2Hz)","i":204,"x":0.27,"y":0.87},{"s":"観測AT (移動平均, 0.2Hz)","i":205,"x":0.2,"y":0.9},{"s":"観測AT (移動平均, 0.2Hz)","i":206,"x":0.14,"y":0.93},{"s":"観測AT (移動平均, 0.2Hz)","i":207,"x":0.08,"y":0.9},{"s":"観測AT (移動平均, 0.2Hz)","i":208,"x":0.02,"y":0.92},{"s":"観測AT (移動平均, 0.2Hz)","i":209,"x":-0.05,"y":0.94},
      {"s":"観測AT (移動平均, 0.2Hz)","i":210,"x":-0.12,"y":0.93},{"s":"観測AT (移動平均, 0.2Hz)","i":211,"x":-0.2,"y":0.95},{"s":"観測AT (移動平均, 0.2Hz)","i":212,"x":-0.26,"y":0.9},{"s":"観測AT (移動平均, 0.2Hz)","i":213,"x":-0.3,"y":0.86},{"s":"観測AT (移動平均, 0.2Hz)","i":214,"x":-0.33,"y":0.8},{"s":"観測AT (移動平均, 0.2Hz)","i":215,"x":-0.35,"y":0.74},{"s":"観測AT (移動平均, 0.2Hz)","i":216,"x":-0.36,"y":0.66},{"s":"観測AT (移動平均, 0.2Hz)","i":217,"x":-0.34,"y":0.6},{"s":"観測AT (移動平均, 0.2Hz)","i":218,"x":-0.36,"y":0.54},{"s":"観測AT (移動平均, 0.2Hz)","i":219,"x":-0.4,"y":0.48},
      {"s":"観測AT (移動平均, 0.2Hz)","i":220,"x":-0.44,"y":0.44},{"s":"観測AT (移動平均, 0.2Hz)","i":221,"x":-0.5,"y":0.4},{"s":"観測AT (移動平均, 0.2Hz)","i":222,"x":-0.56,"y":0.37},{"s":"観測AT (移動平均, 0.2Hz)","i":223,"x":-0.62,"y":0.36},{"s":"観測AT (移動平均, 0.2Hz)","i":224,"x":-0.7,"y":0.35},{"s":"観測AT (移動平均, 0.2Hz)","i":225,"x":-0.76,"y":0.33},{"s":"観測AT (移動平均, 0.2Hz)","i":226,"x":-0.82,"y":0.3},{"s":"観測AT (移動平均, 0.2Hz)","i":227,"x":-0.86,"y":0.25},{"s":"観測AT (移動平均, 0.2Hz)","i":228,"x":-0.9,"y":0.2},{"s":"観測AT (移動平均, 0.2Hz)","i":229,"x":-0.88,"y":0.14},
      {"s":"観測AT (移動平均, 0.2Hz)","i":230,"x":-0.93,"y":0.1},{"s":"観測AT (移動平均, 0.2Hz)","i":231,"x":-0.9,"y":0.05},{"s":"観測AT (移動平均, 0.2Hz)","i":232,"x":-0.96,"y":0},{"s":"観測AT (移動平均, 0.2Hz)","i":233,"x":-0.93,"y":-0.05},{"s":"観測AT (移動平均, 0.2Hz)","i":234,"x":-0.95,"y":-0.12},{"s":"観測AT (移動平均, 0.2Hz)","i":235,"x":-0.9,"y":-0.18},{"s":"観測AT (移動平均, 0.2Hz)","i":236,"x":-0.88,"y":-0.25},{"s":"観測AT (移動平均, 0.2Hz)","i":237,"x":-0.84,"y":-0.3},{"s":"観測AT (移動平均, 0.2Hz)","i":238,"x":-0.78,"y":-0.33},{"s":"観測AT (移動平均, 0.2Hz)","i":239,"x":-0.7,"y":-0.35},
      {"s":"観測AT (移動平均, 0.2Hz)","i":240,"x":-0.62,"y":-0.37},{"s":"観測AT (移動平均, 0.2Hz)","i":241,"x":-0.56,"y":-0.39},{"s":"観測AT (移動平均, 0.2Hz)","i":242,"x":-0.5,"y":-0.4},{"s":"観測AT (移動平均, 0.2Hz)","i":243,"x":-0.45,"y":-0.45},{"s":"観測AT (移動平均, 0.2Hz)","i":244,"x":-0.4,"y":-0.5},{"s":"観測AT (移動平均, 0.2Hz)","i":245,"x":-0.36,"y":-0.56},{"s":"観測AT (移動平均, 0.2Hz)","i":246,"x":-0.38,"y":-0.62},{"s":"観測AT (移動平均, 0.2Hz)","i":247,"x":-0.35,"y":-0.7},{"s":"観測AT (移動平均, 0.2Hz)","i":248,"x":-0.33,"y":-0.77},{"s":"観測AT (移動平均, 0.2Hz)","i":249,"x":-0.3,"y":-0.84},
      {"s":"観測AT (移動平均, 0.2Hz)","i":250,"x":-0.24,"y":-0.88},{"s":"観測AT (移動平均, 0.2Hz)","i":251,"x":-0.18,"y":-0.9},{"s":"観測AT (移動平均, 0.2Hz)","i":252,"x":-0.1,"y":-0.92},{"s":"観測AT (移動平均, 0.2Hz)","i":253,"x":-0.04,"y":-0.95},{"s":"観測AT (移動平均, 0.2Hz)","i":254,"x":0.02,"y":-0.94}
    ]
  },
  "hconcat": [
    {
      "width": 270,
      "height": 266,
      "layer": [
        {
          "data": {"values": [{"x": 0, "y": 0}]},
          "mark": {"type": "point", "shape": "M-1.015,0A1.015,1,0,1,1,1.015,0A1.015,1,0,1,1,-1.015,0", "size": 69696, "filled": false, "stroke": "#000000", "strokeWidth": 1, "opacity": 1},
          "encoding": {
            "x": {"field": "x", "type": "quantitative", "scale": {"domain": [-1, 1], "nice": false, "zero": false}, "axis": {"orient": "top", "values": [-1, -0.8, -0.6, -0.4, -0.2, 0, 0.2, 0.4, 0.6, 0.8, 1], "grid": true, "labels": false, "ticks": false, "domain": false, "title": null}},
            "y": {"field": "y", "type": "quantitative", "scale": {"domain": [-1, 1], "nice": false, "zero": false}, "axis": {"orient": "right", "values": [-1, -0.8, -0.6, -0.4, -0.2, 0, 0.2, 0.4, 0.6, 0.8, 1], "grid": true, "labels": false, "ticks": false, "domain": false, "title": null}}
          }
        },
        {
          "data": {"name": "th"},
          "mark": {"type": "line", "strokeCap": "butt", "strokeWidth": 1.3, "strokeDash": [4, 3]},
          "encoding": {
            "x": {"field": "x", "type": "quantitative", "axis": {"orient": "bottom", "offset": -133, "values": [-1, -0.8, -0.6, -0.4, -0.2, 0, 0.2, 0.4, 0.6, 0.8, 1], "format": "~g", "grid": false, "ticks": false, "domain": true, "labelPadding": 6, "labelFlush": false, "labelOverlap": false, "title": null}},
            "y": {"field": "y", "type": "quantitative", "axis": {"orient": "left", "offset": -135, "values": [-1, -0.8, -0.6, -0.4, -0.2, 0, 0.2, 0.4, 0.6, 0.8, 1], "format": "~g", "grid": false, "ticks": false, "domain": true, "labelPadding": 9, "labelFlush": false, "labelOverlap": false, "title": null}},
            "order": {"field": "i", "type": "quantitative"},
            "color": {"field": "s", "type": "nominal", "title": null, "scale": {"domain": ["理論SH", "理論SV", "理論AT"], "range": ["#ff0000", "#4472c4", "#006400"]}, "legend": {"orient": "none", "legendX": -21, "legendY": 273, "columns": 3, "columnPadding": 0, "symbolSize": 1089, "symbolStrokeWidth": 1.3, "symbolDash": [4, 3]}}
          }
        },
        {
          "data": {"name": "pr"},
          "mark": {"type": "line", "strokeCap": "butt", "strokeJoin": "round", "strokeWidth": 2.7},
          "encoding": {
            "x": {"field": "x", "type": "quantitative", "axis": null},
            "y": {"field": "y", "type": "quantitative", "axis": null},
            "order": {"field": "i", "type": "quantitative"},
            "stroke": {"field": "s", "type": "nominal", "title": null, "scale": {"domain": ["提案SH", "提案SV", "提案AT"], "range": ["#ff0000", "#5b9bd5", "#006400"]}, "legend": {"orient": "none", "legendX": -21, "legendY": 296, "columns": 3, "columnPadding": 0, "symbolSize": 1089, "symbolStrokeWidth": 3}}
          }
        },
        {
          "data": {"name": "at"},
          "mark": {"type": "line", "strokeCap": "butt", "strokeJoin": "round", "strokeWidth": 2.7},
          "encoding": {
            "x": {"field": "x", "type": "quantitative", "axis": null},
            "y": {"field": "y", "type": "quantitative", "axis": null},
            "order": {"field": "i", "type": "quantitative"},
            "stroke": {"field": "s", "type": "nominal", "title": null, "legend": {"orient": "none", "legendX": -21, "legendY": 296, "columns": 3, "columnPadding": 0, "symbolSize": 1089, "symbolStrokeWidth": 3}}
          }
        }
      ],
      "resolve": {"axis": {"x": "independent", "y": "independent"}}
    },
    {
      "width": 270,
      "height": 266,
      "layer": [
        {
          "data": {"values": [{"x": 0, "y": 0}]},
          "mark": {"type": "point", "shape": "M-1.02,0A1.02,1,0,1,1,1.02,0A1.02,1,0,1,1,-1.02,0", "size": 69696, "filled": false, "stroke": "#000000", "strokeWidth": 1, "opacity": 1},
          "encoding": {
            "x": {"field": "x", "type": "quantitative", "scale": {"domain": [-1, 1], "nice": false, "zero": false}, "axis": {"orient": "top", "values": [-1, -0.8, -0.6, -0.4, -0.2, 0, 0.2, 0.4, 0.6, 0.8, 1], "grid": true, "labels": false, "ticks": false, "domain": false, "title": null}},
            "y": {"field": "y", "type": "quantitative", "scale": {"domain": [-1, 1], "nice": false, "zero": false}, "axis": {"orient": "right", "values": [-1, -0.8, -0.6, -0.4, -0.2, 0, 0.2, 0.4, 0.6, 0.8, 1], "grid": true, "labels": false, "ticks": false, "domain": false, "title": null}}
          }
        },
        {
          "data": {"name": "at"},
          "mark": {"type": "line", "strokeCap": "butt", "strokeJoin": "round", "strokeWidth": 3.8},
          "encoding": {
            "x": {"field": "x", "type": "quantitative", "axis": {"orient": "bottom", "offset": -133, "values": [-1, -0.8, -0.6, -0.4, -0.2, 0, 0.2, 0.4, 0.6, 0.8, 1], "format": ".1f", "grid": false, "ticks": false, "domain": true, "labelPadding": 6, "labelFlush": false, "labelOverlap": false, "title": null}},
            "y": {"field": "y", "type": "quantitative", "axis": {"orient": "left", "offset": -135, "values": [-1, -0.8, -0.6, -0.4, -0.2, 0, 0.2, 0.4, 0.6, 0.8, 1], "format": ".1f", "grid": false, "ticks": false, "domain": true, "labelPadding": 9, "labelFlush": false, "labelOverlap": false, "title": null}},
            "order": {"field": "i", "type": "quantitative"},
            "color": {"field": "s", "type": "nominal", "title": null, "scale": {"domain": ["提案AT"], "range": ["#006400"]}, "legend": {"orient": "none", "legendX": -33, "legendY": 273, "columns": 1, "symbolSize": 484, "symbolStrokeWidth": 3.8}}
          }
        },
        {
          "data": {"name": "ob"},
          "mark": {"type": "line", "strokeJoin": "miter", "strokeWidth": 1},
          "encoding": {
            "x": {"field": "x", "type": "quantitative", "axis": null},
            "y": {"field": "y", "type": "quantitative", "axis": null},
            "order": {"field": "i", "type": "quantitative"},
            "stroke": {"field": "s", "type": "nominal", "title": null, "scale": {"domain": ["観測AT (移動平均, 0.2Hz)"], "range": ["#0000ff"]}, "legend": {"orient": "none", "legendX": -33, "legendY": 296, "columns": 1, "symbolSize": 484, "symbolStrokeWidth": 1}}
          }
        }
      ],
      "resolve": {"axis": {"x": "independent", "y": "independent"}}
    }
  ],
  "spacing": 49,
  "bounds": "flush",
  "resolve": {
    "scale": {"x": "independent", "y": "independent", "color": "independent", "stroke": "independent"},
    "legend": {"color": "independent", "stroke": "independent"}
  }
}
